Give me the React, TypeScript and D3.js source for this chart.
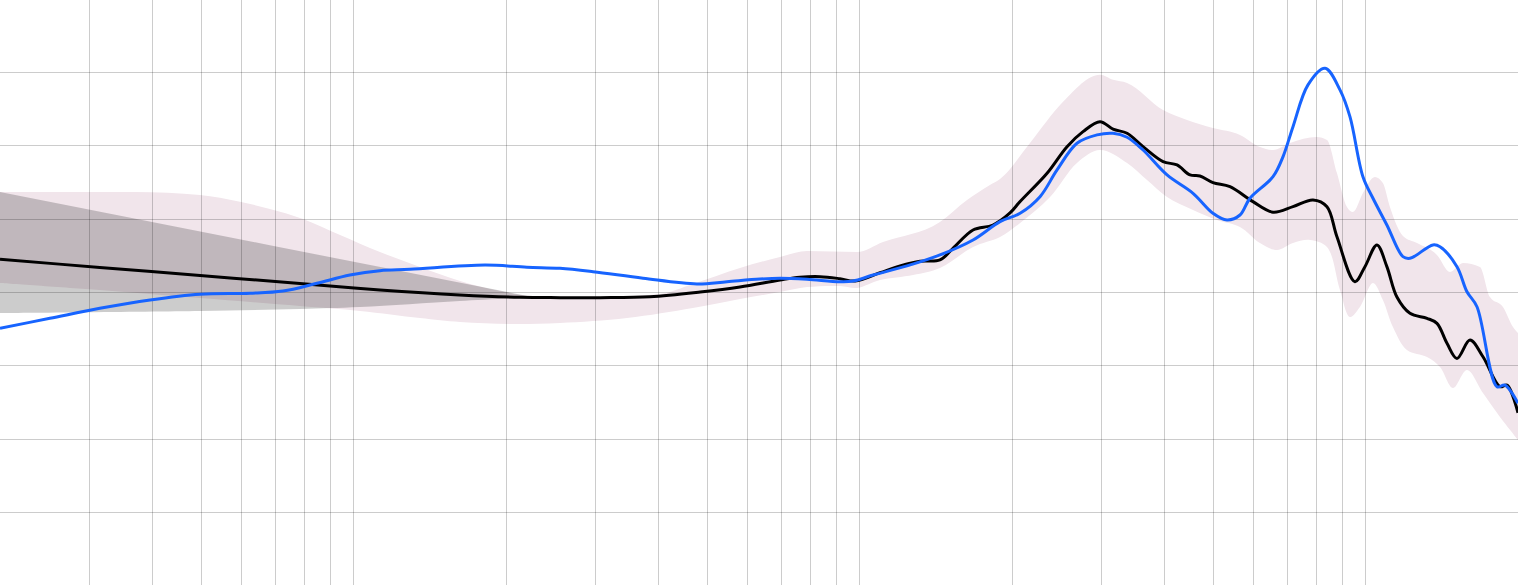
import React from "react";
import * as d3 from "d3";

const W = 1518;
const H = 585;

const FREQ_TICKS = [30, 40, 50, 60, 70, 80, 90, 100, 200, 300, 400, 500, 600, 700, 800, 900, 1000, 2000, 3000, 4000, 5000, 6000, 7000, 8000, 9000, 10000];
const DB_TICKS = [40, 45, 50, 55, 60, 65, 70];

// [Hz, dB]
const blackLine: [number, number][] = [
  [20, 57.26], [31.5, 56.71], [49.7, 56.16], [78.3, 55.61], [112.7, 55.17], [162, 54.83], [213, 54.67],
  [256, 54.65], [307, 54.65], [385, 54.71], [484, 55.03], [580, 55.37], [696, 55.85], [762, 56.04],
  [835, 56.08], [914, 55.94], [980, 55.78], [1097, 56.35], [1202, 56.81], [1316, 57.13], [1441, 57.22],
  [1529, 58.01], [1675, 59.26], [1834, 59.6], [1982, 60.42], [2075, 61.2], [2346, 63.13], [2569, 64.94],
  [2763, 65.96], [2985, 66.64], [3168, 66.13], [3376, 65.85], [3631, 64.94], [3977, 63.92], [4238, 63.69],
  [4497, 63.01], [4704, 62.94], [4991, 62.49], [5393, 62.21], [5987, 61.19], [6559, 60.47], [7184, 60.85],
  [7868, 61.31], [8385, 60.85], [8775, 58.8], [9523, 55.74], [9967, 56.76], [10527, 58.24], [11013, 56.76],
  [11528, 54.69], [12232, 53.58], [13218, 53.24], [13832, 52.9], [14477, 51.54], [15150, 50.51],
  [16074, 51.76], [17054, 50.62], [18425, 48.58], [19020, 48.69], [20000, 46.8],
];

const blueLine: [number, number][] = [
  [20, 52.56], [25.1, 53.24], [31.5, 53.92], [39.6, 54.49], [49.7, 54.88], [62.4, 54.95], [72.5, 55.1],
  [84.6, 55.63], [98.3, 56.19], [112.7, 56.49], [129.2, 56.58], [181.8, 56.87], [220, 56.72], [255.7, 56.65],
  [297.2, 56.42], [373.1, 55.97], [477, 55.58], [546.8, 55.74], [635, 55.92], [696, 55.97], [787, 55.9],
  [914, 55.74], [970, 55.78], [1063, 56.19], [1240, 56.81], [1441, 57.56], [1675, 58.58], [1894, 59.83],
  [2075, 60.4], [2272, 61.53], [2455, 63.35], [2688, 65.17], [2945, 65.74], [3168, 65.85], [3376, 65.58],
  [3631, 64.71], [4050, 63.01], [4558, 61.76], [4991, 60.4], [5320, 59.94], [5644, 60.28], [5906, 61.42],
  [6559, 62.89], [6866, 64.26], [7184, 66.3], [7691, 69.15], [8310, 70.28], [8896, 68.81], [9309, 66.98],
  [9876, 62.89], [10337, 61.42], [11013, 59.6], [11848, 57.44], [12232, 57.33], [13583, 58.24],
  [14024, 58.12], [15150, 56.76], [15857, 55.05], [16594, 54.03], [18176, 48.58], [18848, 48.69], [20000, 47.45],
];

const pinkUpper: [number, number][] = [
  [20, 61.85], [37, 61.85], [49.7, 61.65], [59.6, 61.19], [68.3, 60.69], [79.4, 60.01], [94, 58.92],
  [112.7, 57.76], [135.2, 56.74], [162.3, 55.78], [194.6, 55.1], [226, 54.76], [307, 54.69], [403, 54.9],
  [468, 55.58], [580, 56.67], [696, 57.42], [787, 57.83], [988, 57.76], [1112, 58.44], [1441, 59.81],
  [1630, 61.31], [1809, 62.33], [1894, 62.74], [2171, 65.19], [2523, 67.99], [2985, 69.83], [3168, 69.49],
  [3376, 69.28], [3977, 67.44], [4436, 66.76], [4991, 66.21], [5644, 65.74], [6181, 64.92], [6559, 64.71],
  [7087, 65.19], [8012, 65.6], [8385, 65.4], [8775, 63.15], [9183, 60.83], [9437, 60.49], [9876, 61.78],
  [10431, 62.87], [10814, 62.46], [11167, 60.83], [11848, 58.85], [12630, 58.37], [13832, 57.56],
  [14676, 56.4], [15570, 57.01], [16822, 56.74], [17604, 54.69], [18677, 54.01], [19550, 52.65], [20000, 52.24],
];

const pinkLower: [number, number][] = [
  [20, 55.65], [31.5, 55.17], [49.7, 54.63], [78.3, 54.08], [102.9, 53.74], [135.2, 53.26], [162.3, 52.99],
  [203.7, 52.85], [255.7, 52.92], [346.9, 53.26], [468, 53.94], [580, 54.56], [696, 55.03], [787, 55.37],
  [914, 55.44], [988, 55.31], [1097, 55.85], [1275, 56.19], [1441, 56.67], [1675, 58.1], [1894, 58.78],
  [2075, 59.74], [2378, 61.51], [2688, 63.83], [2985, 64.71], [3376, 63.83], [3697, 62.67], [4050, 61.51],
  [4558, 60.62], [5083, 59.94], [5644, 59.47], [6181, 58.37], [6679, 57.9], [7184, 58.37], [7762, 58.58],
  [8385, 58.1], [8896, 55.17], [9309, 53.33], [9742, 54.01], [10337, 55.65], [10814, 54.49], [11320, 52.65],
  [12066, 51.08], [13218, 50.6], [14024, 49.92], [14878, 48.49], [15857, 49.72], [17054, 48.15],
  [18425, 46.51], [20000, 44.95],
];

const grayUpper: [number, number][] = [[20, 61.85], [68.3, 58.22], [226, 54.69]];
const grayLower: [number, number][] = [
  [20, 53.6], [49.7, 53.74], [78.3, 53.88], [103, 54.01], [162, 54.42], [226, 54.69],
];

export default function App() {
  const x = d3.scaleLog().domain([20, 20000]).range([0, W]);
  const y = d3.scaleLinear().domain([35, 75]).range([586, -1]);

  const line = d3
    .line<[number, number]>()
    .x((d) => x(d[0]))
    .y((d) => y(d[1]))
    .curve(d3.curveCatmullRom.alpha(0.5));

  const bandLine = d3
    .line<[number, number]>()
    .x((d) => x(d[0]))
    .y((d) => y(d[1]))
    .curve(d3.curveMonotoneX);

  const bandLineRev = d3
    .line<[number, number]>()
    .x((d) => x(d[0]))
    .y((d) => y(d[1]))
    .curve(d3.curveCatmullRom.alpha(0.5));

  const band = (up: [number, number][], lo: [number, number][]) => {
    const a = bandLine(up) || "";
    const b = (bandLineRev(lo.slice().reverse()) || "").replace(/^M/, "L");
    return a + b + "Z";
  };

  const grayBand = (() => {
    const l = d3
      .line<[number, number]>()
      .x((d) => x(d[0]))
      .y((d) => y(d[1]))
      .curve(d3.curveLinear);
    const a = l(grayUpper) || "";
    const b = (d3
      .line<[number, number]>()
      .x((d) => x(d[0]))
      .y((d) => y(d[1]))
      .curve(d3.curveMonotoneX)(grayLower.slice()) || "");
    // lower edge drawn back from right to left
    const lowRev = (d3
      .line<[number, number]>()
      .x((d) => x(d[0]))
      .y((d) => y(d[1]))
      .curve(d3.curveCatmullRom)(grayLower.slice().reverse()) || "").replace(/^M/, "L");
    void b;
    return a + lowRev + "Z";
  })();

  return (
    <div style={{ position: "absolute", left: 0, top: 0 }}>
      <svg width={W} height={H} style={{ display: "block", background: "#fff" }}>
        <path d={band(pinkUpper, pinkLower)} fill="#f1e5eb" />
        <path d={grayBand} fill="rgba(0,0,0,0.2)" />
        <g stroke="rgba(0,0,0,0.2)" strokeWidth={1} shapeRendering="crispEdges">
          {FREQ_TICKS.map((f) => (
            <line key={"v" + f} x1={x(f)} x2={x(f)} y1={0} y2={H} />
          ))}
          {DB_TICKS.map((v) => (
            <line key={"h" + v} x1={0} x2={W} y1={y(v)} y2={y(v)} />
          ))}
        </g>
        <path d={line(blackLine) || ""} fill="none" stroke="#000" strokeWidth={3} strokeLinejoin="round" />
        <path d={line(blueLine) || ""} fill="none" stroke="#1764ff" strokeWidth={3} strokeLinejoin="round" />
      </svg>
    </div>
  );
}
